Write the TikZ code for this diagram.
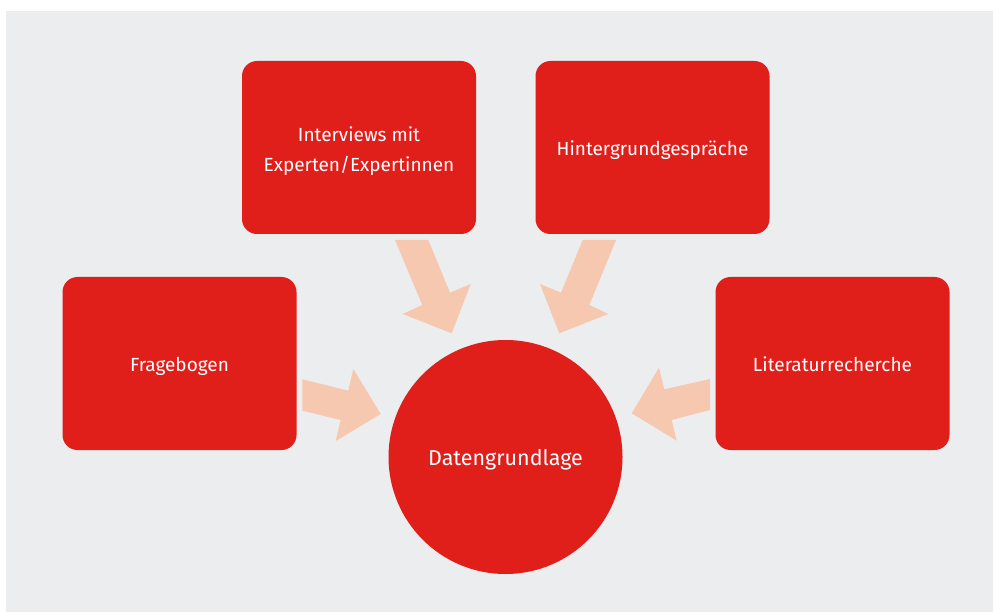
\documentclass[tikz,border=0pt]{standalone}
\usepackage{fontspec}
\setmainfont{Fira Sans}
\definecolor{bgc}{HTML}{ECEDEE}
\definecolor{redc}{HTML}{E01E1A}
\definecolor{arrc}{HTML}{F7C8B0}
\tikzset{
  box/.style={fill=redc, rounded corners=15pt, minimum width=234pt, minimum height=173pt, inner sep=0pt},
  boxtext/.style={text=white, align=center, inner sep=0pt, font=\fontsize{19}{30}\selectfont},
  hub/.style={circle, fill=redc, minimum size=234pt, inner sep=0pt},
  hubtext/.style={text=white, inner sep=0pt, anchor=base, font=\fontsize{21.5}{24}\selectfont},
  blockarrow/.style={fill=arrc}
}
\begin{document}
\begin{tikzpicture}[x=1pt,y=-1pt]
\useasboundingbox (0,0) rectangle (993,612);
\fill[bgc] (6,11) rectangle (993,612);
\node[box] (interviews) at (359,147.5) {};
\node[boxtext] (interviewsT) at (359,151.5) {Interviews mit\\Experten/Expertinnen};
\node[box] (hinter) at (652.5,147.5) {};
\node[boxtext, anchor=base] (hinterT) at (652.5,156) {Hintergrundgespräche};
\node[box] (frage) at (179.5,363.5) {};
\node[boxtext, anchor=base] (frageT) at (179.5,371.7) {Fragebogen};
\node[box] (literatur) at (832.5,363.5) {};
\node[boxtext, anchor=base] (literaturT) at (832.5,371.7) {Literaturrecherche};
\node[hub] (daten) at (505.5,457) {};
\node[hubtext] (datenT) at (505.5,465) {Datengrundlage};
% block arrows
\fill[blockarrow] (302.3,379.3) -- (348.3,390.7) -- (353.3,369) -- (380.7,414) -- (335.7,441) -- (340.7,420) -- (302.3,410.7) -- cycle;
\fill[blockarrow] (710,379) -- (710,410) -- (671.7,420) -- (676.7,440.7) -- (631.7,413.3) -- (659,367.7) -- (664.3,389.3) -- cycle;
\fill[blockarrow] (395,240) -- (428.3,240) -- (450,292.7) -- (470.7,284) -- (451.7,333.3) -- (402.7,314) -- (422.3,305) -- cycle;
\fill[blockarrow] (582.7,240) -- (616,240) -- (589.3,305) -- (608.3,314) -- (559.3,333.3) -- (540,284) -- (561,292.7) -- cycle;
\end{tikzpicture}
\end{document}
